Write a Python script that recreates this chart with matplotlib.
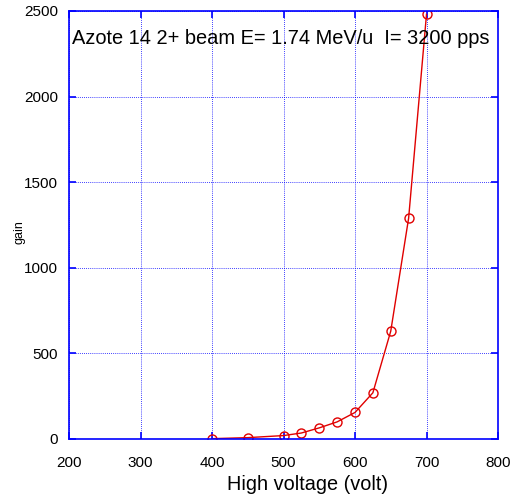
import matplotlib
matplotlib.use("Agg")
import matplotlib.pyplot as plt

plt.rcParams["font.family"] = ["Liberation Sans", "DejaVu Sans"]

# high voltage (volt) and measured gain
voltage = [400, 450, 500, 525, 550, 575, 600, 625, 650, 675, 700]
gain = [2, 8, 20, 35, 65, 100, 155, 270, 630, 1290, 2480]

x_ticks = [200, 300, 400, 500, 600, 700, 800]
y_ticks = [0, 500, 1000, 1500, 2000, 2500]

W, H = 516, 500
fig = plt.figure(figsize=(W / 100, H / 100), dpi=100)
ax = fig.add_axes([69 / W, 1 - 439 / H, 429 / W, 428 / H])

ax.plot(voltage, gain, color="#e00000", lw=1, marker="o", ms=6.5,
        mfc="none", mec="#e00000", mew=1)

ax.set_xlim(200, 800)
ax.set_ylim(0, 2500)
ax.set_xticks(x_ticks)
ax.set_yticks(y_ticks)
ax.grid(True, color="blue", ls=(0, (1, 1.5)), lw=0.6)

for s in ax.spines.values():
    s.set_color("blue")
    s.set_linewidth(1.2)
ax.tick_params(direction="in", top=True, right=True, color="blue",
               length=5, width=1.2, labelsize=11, pad=8)
ax.tick_params(axis="x", pad=12)

# axis titles sit off-centre in the original
fig.text(308 / W, 1 - 485 / H, "High voltage (volt)", fontsize=14.3,
         ha="center", va="center")
fig.text(19 / W, 1 - 232 / H, "gain", fontsize=9, rotation=90,
         ha="center", va="center")
ax.text(0.007, 0.935, "Azote 14 2+ beam E= 1.74 MeV/u  I= 3200 pps",
        transform=ax.transAxes, fontsize=14.4, va="center", ha="left")

fig.savefig("out.png", dpi=100)
